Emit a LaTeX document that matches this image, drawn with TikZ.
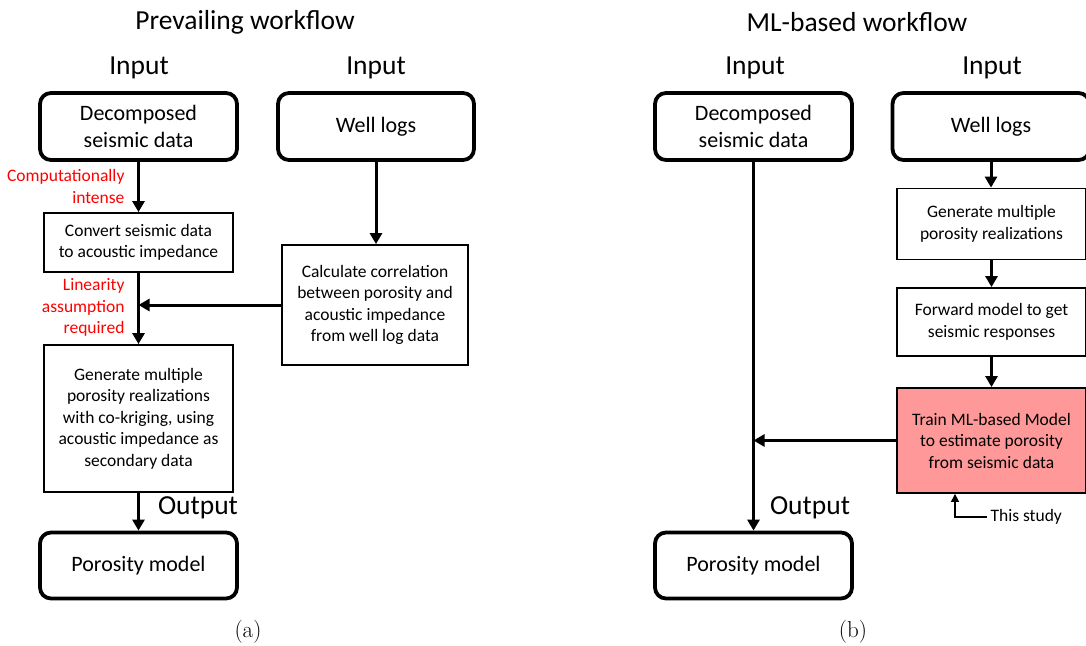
\documentclass[tikz,border=0pt]{standalone}
\usepackage{fontspec}
\newfontfamily\carlito{Carlito}
\usetikzlibrary{arrows.meta}
\definecolor{studypink}{RGB}{255,153,153}

\begin{document}
\begin{tikzpicture}
[x=1pt, y=-1pt,
 every node/.style={font=\carlito},
 big/.style={font=\carlito\fontsize{27.5}{30}\selectfont},
 mid/.style={font=\carlito\fontsize{22}{27}\selectfont},
 small/.style={font=\carlito\fontsize{17.5}{21.5}\selectfont},
 note/.style={small, text=red, align=right, anchor=east},
 datbox/.style={mid, draw, line width=3.8pt, rounded corners=11pt, align=center,
   minimum width=197pt, minimum height=67pt, inner sep=0pt},
 stepbox/.style={small, draw, line width=1.8pt, align=center,
   minimum width=189pt, inner sep=0pt},
 flow/.style={line width=3pt, -{Triangle[length=11pt,width=12pt]}},
 caption/.style={font=\rmfamily\fontsize{23}{26}\selectfont}]
\useasboundingbox (0,0) rectangle (1086,645);

% (a) prevailing workflow
\node [big] (titlea) at (245,22) {Prevailing workflow};
\node [big] (ina1) at (139,68) {Input};
\node [big] (ina2) at (376,68) {Input};
\node [datbox] (deca) at (138.5,126.5) {Decomposed\\seismic data};
\node [datbox, minimum width=196pt] (wella) at (376,126.5) {Well logs};
\node [stepbox, minimum height=59pt] (conv) at (138.5,242.5) {Convert seismic data\\to acoustic impedance};
\node [stepbox, minimum width=186pt, minimum height=120pt] (calc) at (375,305)
  {Calculate correlation\\between porosity and\\acoustic impedance\\from well log data};
\node [stepbox, minimum height=147pt] (gena) at (138.5,418.5)
  {Generate multiple\\porosity realizations\\with co-kriging, using\\acoustic impedance as\\secondary data};
\node [datbox, minimum height=66pt] (pora) at (138.5,565.5) {Porosity model};
\node [big] (outa) at (198,508) {Output};
\node [note] (cost) at (128,186.5) {Computationally\\intense};
\node [note] (linear) at (128,307.5) {Linearity\\assumption\\required};
\node [caption] (capa) at (248,632) {(a)};

\draw [flow] (deca) -- (conv);
\draw [flow] (conv) -- (gena);
\draw [flow] (gena) -- (pora);
\draw [flow] (wella.south) -- (wella.south |- calc.north);
\draw [flow] (calc.west) -- (calc.west -| conv.south);

% (b) ML-based workflow
\node [big] (titleb) at (857,22) {ML-based workflow};
\node [big] (inb1) at (755,68) {Input};
\node [big] (inb2) at (992,68) {Input};
\node [datbox] (decb) at (753.5,126.5) {Decomposed\\seismic data};
\node [datbox] (wellb) at (991,126.5) {Well logs};
\node [stepbox, minimum height=71pt] (genb) at (991.5,224) {Generate multiple\\porosity realizations};
\node [stepbox, minimum height=68pt] (fwd) at (991.5,322) {Forward model to get\\seismic responses};
\node [stepbox, minimum height=105pt, fill=studypink] (train) at (991.5,440.5)
  {Train ML-based Model\\to estimate porosity\\from seismic data};
\node [datbox, minimum height=66pt] (porb) at (753.5,565.5) {Porosity model};
\node [big] (outb) at (810,508) {Output};
\node [small, anchor=west] (study) at (987,517) {This study};
\coordinate (bend) at (955,517);
\node [caption] (capb) at (853,632) {(b)};

\draw [flow] (decb) -- (porb);
\draw [flow] (wellb.south) -- (wellb.south |- genb.north);
\draw [flow] (genb) -- (fwd);
\draw [flow] (fwd) -- (train);
\draw [flow] (train.west) -- (train.west -| decb.south);
\draw [line width=1.2pt, -{Triangle[length=8pt,width=8pt]}] (study.west) -- (bend) -- (bend |- train.south);
\end{tikzpicture}
\end{document}
